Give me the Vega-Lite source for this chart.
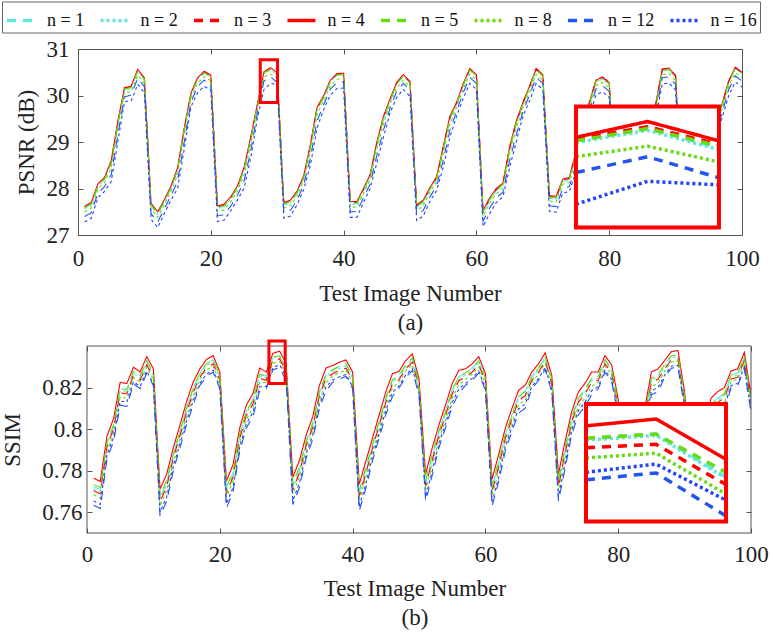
{
"$schema": "https://vega.github.io/schema/vega-lite/v6.json",
"background": "white",
"padding": {"left": 1, "top": 1, "right": 2, "bottom": 2},
"datasets": {"d": [
{"i":1,"n":1,"p":27.58,"s":0.7724},{"i":1,"n":2,"p":27.56,"s":0.7714},{"i":1,"n":3,"p":27.60,"s":0.7704},{"i":1,"n":4,"p":27.62,"s":0.7764},{"i":1,"n":5,"p":27.59,"s":0.7734},{"i":1,"n":8,"p":27.50,"s":0.7684},{"i":1,"n":12,"p":27.40,"s":0.7634},{"i":1,"n":16,"p":27.28,"s":0.7654},
{"i":2,"n":1,"p":27.66,"s":0.7708},{"i":2,"n":2,"p":27.64,"s":0.7698},{"i":2,"n":3,"p":27.68,"s":0.7688},{"i":2,"n":4,"p":27.70,"s":0.7748},{"i":2,"n":5,"p":27.67,"s":0.7718},{"i":2,"n":8,"p":27.58,"s":0.7668},{"i":2,"n":12,"p":27.48,"s":0.7618},{"i":2,"n":16,"p":27.36,"s":0.7638},
{"i":3,"n":1,"p":28.06,"s":0.7935},{"i":3,"n":2,"p":28.05,"s":0.7925},{"i":3,"n":3,"p":28.08,"s":0.7915},{"i":3,"n":4,"p":28.10,"s":0.7965},{"i":3,"n":5,"p":28.07,"s":0.7935},{"i":3,"n":8,"p":27.99,"s":0.7895},{"i":3,"n":12,"p":27.90,"s":0.7855},{"i":3,"n":16,"p":27.80,"s":0.7875},
{"i":4,"n":1,"p":28.20,"s":0.8020},{"i":4,"n":2,"p":28.19,"s":0.8010},{"i":4,"n":3,"p":28.22,"s":0.8000},{"i":4,"n":4,"p":28.24,"s":0.8050},{"i":4,"n":5,"p":28.21,"s":0.8020},{"i":4,"n":8,"p":28.13,"s":0.7980},{"i":4,"n":12,"p":28.04,"s":0.7940},{"i":4,"n":16,"p":27.94,"s":0.7960},
{"i":5,"n":1,"p":28.55,"s":0.8195},{"i":5,"n":2,"p":28.53,"s":0.8185},{"i":5,"n":3,"p":28.57,"s":0.8175},{"i":5,"n":4,"p":28.60,"s":0.8225},{"i":5,"n":5,"p":28.56,"s":0.8195},{"i":5,"n":8,"p":28.44,"s":0.8155},{"i":5,"n":12,"p":28.30,"s":0.8115},{"i":5,"n":16,"p":28.15,"s":0.8135},
{"i":6,"n":1,"p":29.40,"s":0.8189},{"i":6,"n":2,"p":29.38,"s":0.8179},{"i":6,"n":3,"p":29.42,"s":0.8169},{"i":6,"n":4,"p":29.45,"s":0.8219},{"i":6,"n":5,"p":29.41,"s":0.8189},{"i":6,"n":8,"p":29.29,"s":0.8149},{"i":6,"n":12,"p":29.15,"s":0.8109},{"i":6,"n":16,"p":29.00,"s":0.8129},
{"i":7,"n":1,"p":30.13,"s":0.8278},{"i":7,"n":2,"p":30.12,"s":0.8268},{"i":7,"n":3,"p":30.15,"s":0.8258},{"i":7,"n":4,"p":30.17,"s":0.8298},{"i":7,"n":5,"p":30.14,"s":0.8278},{"i":7,"n":8,"p":30.06,"s":0.8248},{"i":7,"n":12,"p":29.97,"s":0.8218},{"i":7,"n":16,"p":29.87,"s":0.8228},
{"i":8,"n":1,"p":30.17,"s":0.8255},{"i":8,"n":2,"p":30.16,"s":0.8245},{"i":8,"n":3,"p":30.19,"s":0.8235},{"i":8,"n":4,"p":30.20,"s":0.8275},{"i":8,"n":5,"p":30.17,"s":0.8255},{"i":8,"n":8,"p":30.08,"s":0.8225},{"i":8,"n":12,"p":30.01,"s":0.8195},{"i":8,"n":16,"p":29.88,"s":0.8205},
{"i":9,"n":1,"p":30.53,"s":0.8329},{"i":9,"n":2,"p":30.52,"s":0.8319},{"i":9,"n":3,"p":30.55,"s":0.8309},{"i":9,"n":4,"p":30.56,"s":0.8349},{"i":9,"n":5,"p":30.53,"s":0.8329},{"i":9,"n":8,"p":30.44,"s":0.8299},{"i":9,"n":12,"p":30.37,"s":0.8269},{"i":9,"n":16,"p":30.24,"s":0.8279},
{"i":10,"n":1,"p":30.35,"s":0.8270},{"i":10,"n":2,"p":30.34,"s":0.8260},{"i":10,"n":3,"p":30.37,"s":0.8250},{"i":10,"n":4,"p":30.38,"s":0.8290},{"i":10,"n":5,"p":30.35,"s":0.8270},{"i":10,"n":8,"p":30.26,"s":0.8240},{"i":10,"n":12,"p":30.19,"s":0.8210},{"i":10,"n":16,"p":30.06,"s":0.8220},
{"i":11,"n":1,"p":27.64,"s":0.7671},{"i":11,"n":2,"p":27.62,"s":0.7661},{"i":11,"n":3,"p":27.66,"s":0.7651},{"i":11,"n":4,"p":27.68,"s":0.7711},{"i":11,"n":5,"p":27.65,"s":0.7681},{"i":11,"n":8,"p":27.56,"s":0.7631},{"i":11,"n":12,"p":27.46,"s":0.7581},{"i":11,"n":16,"p":27.34,"s":0.7601},
{"i":12,"n":1,"p":27.46,"s":0.7743},{"i":12,"n":2,"p":27.44,"s":0.7733},{"i":12,"n":3,"p":27.48,"s":0.7723},{"i":12,"n":4,"p":27.50,"s":0.7783},{"i":12,"n":5,"p":27.47,"s":0.7753},{"i":12,"n":8,"p":27.38,"s":0.7703},{"i":12,"n":12,"p":27.28,"s":0.7653},{"i":12,"n":16,"p":27.16,"s":0.7673},
{"i":13,"n":1,"p":27.72,"s":0.7880},{"i":13,"n":2,"p":27.71,"s":0.7870},{"i":13,"n":3,"p":27.74,"s":0.7860},{"i":13,"n":4,"p":27.76,"s":0.7910},{"i":13,"n":5,"p":27.73,"s":0.7880},{"i":13,"n":8,"p":27.65,"s":0.7840},{"i":13,"n":12,"p":27.56,"s":0.7800},{"i":13,"n":16,"p":27.46,"s":0.7820},
{"i":14,"n":1,"p":28.01,"s":0.7990},{"i":14,"n":2,"p":28.00,"s":0.7980},{"i":14,"n":3,"p":28.03,"s":0.7970},{"i":14,"n":4,"p":28.05,"s":0.8020},{"i":14,"n":5,"p":28.02,"s":0.7990},{"i":14,"n":8,"p":27.94,"s":0.7950},{"i":14,"n":12,"p":27.85,"s":0.7910},{"i":14,"n":16,"p":27.75,"s":0.7930},
{"i":15,"n":1,"p":28.40,"s":0.8102},{"i":15,"n":2,"p":28.38,"s":0.8092},{"i":15,"n":3,"p":28.42,"s":0.8082},{"i":15,"n":4,"p":28.45,"s":0.8132},{"i":15,"n":5,"p":28.41,"s":0.8102},{"i":15,"n":8,"p":28.29,"s":0.8062},{"i":15,"n":12,"p":28.15,"s":0.8022},{"i":15,"n":16,"p":28.00,"s":0.8042},
{"i":16,"n":1,"p":29.25,"s":0.8197},{"i":16,"n":2,"p":29.23,"s":0.8187},{"i":16,"n":3,"p":29.27,"s":0.8177},{"i":16,"n":4,"p":29.30,"s":0.8227},{"i":16,"n":5,"p":29.26,"s":0.8197},{"i":16,"n":8,"p":29.14,"s":0.8157},{"i":16,"n":12,"p":29.00,"s":0.8117},{"i":16,"n":16,"p":28.85,"s":0.8137},
{"i":17,"n":1,"p":30.01,"s":0.8270},{"i":17,"n":2,"p":30.00,"s":0.8260},{"i":17,"n":3,"p":30.03,"s":0.8250},{"i":17,"n":4,"p":30.05,"s":0.8290},{"i":17,"n":5,"p":30.02,"s":0.8270},{"i":17,"n":8,"p":29.94,"s":0.8240},{"i":17,"n":12,"p":29.85,"s":0.8210},{"i":17,"n":16,"p":29.75,"s":0.8220},
{"i":18,"n":1,"p":30.35,"s":0.8315},{"i":18,"n":2,"p":30.34,"s":0.8305},{"i":18,"n":3,"p":30.37,"s":0.8295},{"i":18,"n":4,"p":30.38,"s":0.8335},{"i":18,"n":5,"p":30.35,"s":0.8315},{"i":18,"n":8,"p":30.26,"s":0.8285},{"i":18,"n":12,"p":30.19,"s":0.8255},{"i":18,"n":16,"p":30.06,"s":0.8265},
{"i":19,"n":1,"p":30.49,"s":0.8334},{"i":19,"n":2,"p":30.48,"s":0.8324},{"i":19,"n":3,"p":30.51,"s":0.8314},{"i":19,"n":4,"p":30.52,"s":0.8354},{"i":19,"n":5,"p":30.49,"s":0.8334},{"i":19,"n":8,"p":30.40,"s":0.8304},{"i":19,"n":12,"p":30.33,"s":0.8274},{"i":19,"n":16,"p":30.20,"s":0.8284},
{"i":20,"n":1,"p":30.41,"s":0.8255},{"i":20,"n":2,"p":30.40,"s":0.8245},{"i":20,"n":3,"p":30.43,"s":0.8235},{"i":20,"n":4,"p":30.44,"s":0.8275},{"i":20,"n":5,"p":30.41,"s":0.8255},{"i":20,"n":8,"p":30.32,"s":0.8225},{"i":20,"n":12,"p":30.25,"s":0.8195},{"i":20,"n":16,"p":30.12,"s":0.8205},
{"i":21,"n":1,"p":27.59,"s":0.7710},{"i":21,"n":2,"p":27.57,"s":0.7700},{"i":21,"n":3,"p":27.61,"s":0.7690},{"i":21,"n":4,"p":27.63,"s":0.7750},{"i":21,"n":5,"p":27.60,"s":0.7720},{"i":21,"n":8,"p":27.51,"s":0.7670},{"i":21,"n":12,"p":27.41,"s":0.7620},{"i":21,"n":16,"p":27.29,"s":0.7640},
{"i":22,"n":1,"p":27.62,"s":0.7790},{"i":22,"n":2,"p":27.60,"s":0.7780},{"i":22,"n":3,"p":27.64,"s":0.7770},{"i":22,"n":4,"p":27.66,"s":0.7830},{"i":22,"n":5,"p":27.63,"s":0.7800},{"i":22,"n":8,"p":27.54,"s":0.7750},{"i":22,"n":12,"p":27.44,"s":0.7700},{"i":22,"n":16,"p":27.32,"s":0.7720},
{"i":23,"n":1,"p":27.78,"s":0.7975},{"i":23,"n":2,"p":27.77,"s":0.7965},{"i":23,"n":3,"p":27.80,"s":0.7955},{"i":23,"n":4,"p":27.82,"s":0.8005},{"i":23,"n":5,"p":27.79,"s":0.7975},{"i":23,"n":8,"p":27.71,"s":0.7935},{"i":23,"n":12,"p":27.62,"s":0.7895},{"i":23,"n":16,"p":27.52,"s":0.7915},
{"i":24,"n":1,"p":28.01,"s":0.8086},{"i":24,"n":2,"p":28.00,"s":0.8076},{"i":24,"n":3,"p":28.03,"s":0.8066},{"i":24,"n":4,"p":28.05,"s":0.8116},{"i":24,"n":5,"p":28.02,"s":0.8086},{"i":24,"n":8,"p":27.94,"s":0.8046},{"i":24,"n":12,"p":27.85,"s":0.8006},{"i":24,"n":16,"p":27.75,"s":0.8026},
{"i":25,"n":1,"p":28.40,"s":0.8141},{"i":25,"n":2,"p":28.38,"s":0.8131},{"i":25,"n":3,"p":28.42,"s":0.8121},{"i":25,"n":4,"p":28.45,"s":0.8171},{"i":25,"n":5,"p":28.41,"s":0.8141},{"i":25,"n":8,"p":28.29,"s":0.8101},{"i":25,"n":12,"p":28.15,"s":0.8061},{"i":25,"n":16,"p":28.00,"s":0.8081},
{"i":26,"n":1,"p":29.05,"s":0.8264},{"i":26,"n":2,"p":29.03,"s":0.8254},{"i":26,"n":3,"p":29.07,"s":0.8244},{"i":26,"n":4,"p":29.10,"s":0.8294},{"i":26,"n":5,"p":29.06,"s":0.8264},{"i":26,"n":8,"p":28.94,"s":0.8224},{"i":26,"n":12,"p":28.80,"s":0.8184},{"i":26,"n":16,"p":28.65,"s":0.8204},
{"i":27,"n":1,"p":29.76,"s":0.8255},{"i":27,"n":2,"p":29.75,"s":0.8245},{"i":27,"n":3,"p":29.78,"s":0.8235},{"i":27,"n":4,"p":29.80,"s":0.8275},{"i":27,"n":5,"p":29.77,"s":0.8255},{"i":27,"n":8,"p":29.69,"s":0.8225},{"i":27,"n":12,"p":29.60,"s":0.8195},{"i":27,"n":16,"p":29.50,"s":0.8205},
{"i":28,"n":1,"p":30.49,"s":0.8346},{"i":28,"n":2,"p":30.48,"s":0.8344},{"i":28,"n":3,"p":30.50,"s":0.8333},{"i":28,"n":4,"p":30.51,"s":0.8365},{"i":28,"n":5,"p":30.49,"s":0.8347},{"i":28,"n":8,"p":30.40,"s":0.8318},{"i":28,"n":12,"p":30.31,"s":0.8286},{"i":28,"n":16,"p":30.13,"s":0.8297},
{"i":29,"n":1,"p":30.56,"s":0.8353},{"i":29,"n":2,"p":30.55,"s":0.8351},{"i":29,"n":3,"p":30.57,"s":0.8338},{"i":29,"n":4,"p":30.60,"s":0.8375},{"i":29,"n":5,"p":30.56,"s":0.8353},{"i":29,"n":8,"p":30.46,"s":0.8325},{"i":29,"n":12,"p":30.40,"s":0.8296},{"i":29,"n":16,"p":30.26,"s":0.8309},
{"i":30,"n":1,"p":30.45,"s":0.8290},{"i":30,"n":2,"p":30.44,"s":0.8288},{"i":30,"n":3,"p":30.47,"s":0.8279},{"i":30,"n":4,"p":30.49,"s":0.8316},{"i":30,"n":5,"p":30.46,"s":0.8297},{"i":30,"n":8,"p":30.37,"s":0.8265},{"i":30,"n":12,"p":30.28,"s":0.8233},{"i":30,"n":16,"p":30.24,"s":0.8256},
{"i":31,"n":1,"p":27.66,"s":0.7727},{"i":31,"n":2,"p":27.64,"s":0.7717},{"i":31,"n":3,"p":27.68,"s":0.7707},{"i":31,"n":4,"p":27.70,"s":0.7767},{"i":31,"n":5,"p":27.67,"s":0.7737},{"i":31,"n":8,"p":27.58,"s":0.7687},{"i":31,"n":12,"p":27.48,"s":0.7637},{"i":31,"n":16,"p":27.36,"s":0.7657},
{"i":32,"n":1,"p":27.71,"s":0.7810},{"i":32,"n":2,"p":27.69,"s":0.7800},{"i":32,"n":3,"p":27.73,"s":0.7790},{"i":32,"n":4,"p":27.75,"s":0.7850},{"i":32,"n":5,"p":27.72,"s":0.7820},{"i":32,"n":8,"p":27.63,"s":0.7770},{"i":32,"n":12,"p":27.53,"s":0.7720},{"i":32,"n":16,"p":27.41,"s":0.7740},
{"i":33,"n":1,"p":27.91,"s":0.7940},{"i":33,"n":2,"p":27.90,"s":0.7930},{"i":33,"n":3,"p":27.93,"s":0.7920},{"i":33,"n":4,"p":27.95,"s":0.7970},{"i":33,"n":5,"p":27.92,"s":0.7940},{"i":33,"n":8,"p":27.84,"s":0.7900},{"i":33,"n":12,"p":27.75,"s":0.7860},{"i":33,"n":16,"p":27.65,"s":0.7880},
{"i":34,"n":1,"p":28.24,"s":0.8030},{"i":34,"n":2,"p":28.23,"s":0.8020},{"i":34,"n":3,"p":28.26,"s":0.8010},{"i":34,"n":4,"p":28.28,"s":0.8060},{"i":34,"n":5,"p":28.25,"s":0.8030},{"i":34,"n":8,"p":28.17,"s":0.7990},{"i":34,"n":12,"p":28.08,"s":0.7950},{"i":34,"n":16,"p":27.98,"s":0.7970},
{"i":35,"n":1,"p":28.90,"s":0.8180},{"i":35,"n":2,"p":28.88,"s":0.8170},{"i":35,"n":3,"p":28.92,"s":0.8160},{"i":35,"n":4,"p":28.95,"s":0.8210},{"i":35,"n":5,"p":28.91,"s":0.8180},{"i":35,"n":8,"p":28.79,"s":0.8140},{"i":35,"n":12,"p":28.65,"s":0.8100},{"i":35,"n":16,"p":28.50,"s":0.8120},
{"i":36,"n":1,"p":29.70,"s":0.8264},{"i":36,"n":2,"p":29.68,"s":0.8254},{"i":36,"n":3,"p":29.72,"s":0.8244},{"i":36,"n":4,"p":29.75,"s":0.8294},{"i":36,"n":5,"p":29.71,"s":0.8264},{"i":36,"n":8,"p":29.59,"s":0.8224},{"i":36,"n":12,"p":29.45,"s":0.8184},{"i":36,"n":16,"p":29.30,"s":0.8204},
{"i":37,"n":1,"p":29.96,"s":0.8286},{"i":37,"n":2,"p":29.95,"s":0.8276},{"i":37,"n":3,"p":29.98,"s":0.8266},{"i":37,"n":4,"p":30.00,"s":0.8306},{"i":37,"n":5,"p":29.97,"s":0.8286},{"i":37,"n":8,"p":29.89,"s":0.8256},{"i":37,"n":12,"p":29.80,"s":0.8226},{"i":37,"n":16,"p":29.70,"s":0.8236},
{"i":38,"n":1,"p":30.30,"s":0.8302},{"i":38,"n":2,"p":30.29,"s":0.8292},{"i":38,"n":3,"p":30.32,"s":0.8282},{"i":38,"n":4,"p":30.33,"s":0.8322},{"i":38,"n":5,"p":30.30,"s":0.8302},{"i":38,"n":8,"p":30.21,"s":0.8272},{"i":38,"n":12,"p":30.14,"s":0.8242},{"i":38,"n":16,"p":30.01,"s":0.8252},
{"i":39,"n":1,"p":30.44,"s":0.8313},{"i":39,"n":2,"p":30.43,"s":0.8303},{"i":39,"n":3,"p":30.46,"s":0.8293},{"i":39,"n":4,"p":30.47,"s":0.8333},{"i":39,"n":5,"p":30.44,"s":0.8313},{"i":39,"n":8,"p":30.35,"s":0.8283},{"i":39,"n":12,"p":30.28,"s":0.8253},{"i":39,"n":16,"p":30.15,"s":0.8263},
{"i":40,"n":1,"p":30.45,"s":0.8255},{"i":40,"n":2,"p":30.44,"s":0.8245},{"i":40,"n":3,"p":30.47,"s":0.8235},{"i":40,"n":4,"p":30.48,"s":0.8275},{"i":40,"n":5,"p":30.45,"s":0.8255},{"i":40,"n":8,"p":30.36,"s":0.8225},{"i":40,"n":12,"p":30.29,"s":0.8195},{"i":40,"n":16,"p":30.16,"s":0.8205},
{"i":41,"n":1,"p":27.68,"s":0.7695},{"i":41,"n":2,"p":27.66,"s":0.7685},{"i":41,"n":3,"p":27.70,"s":0.7675},{"i":41,"n":4,"p":27.72,"s":0.7735},{"i":41,"n":5,"p":27.69,"s":0.7705},{"i":41,"n":8,"p":27.60,"s":0.7655},{"i":41,"n":12,"p":27.50,"s":0.7605},{"i":41,"n":16,"p":27.38,"s":0.7625},
{"i":42,"n":1,"p":27.68,"s":0.7806},{"i":42,"n":2,"p":27.66,"s":0.7796},{"i":42,"n":3,"p":27.70,"s":0.7786},{"i":42,"n":4,"p":27.72,"s":0.7846},{"i":42,"n":5,"p":27.69,"s":0.7816},{"i":42,"n":8,"p":27.60,"s":0.7766},{"i":42,"n":12,"p":27.50,"s":0.7716},{"i":42,"n":16,"p":27.38,"s":0.7736},
{"i":43,"n":1,"p":27.96,"s":0.7927},{"i":43,"n":2,"p":27.95,"s":0.7917},{"i":43,"n":3,"p":27.98,"s":0.7907},{"i":43,"n":4,"p":28.00,"s":0.7957},{"i":43,"n":5,"p":27.97,"s":0.7927},{"i":43,"n":8,"p":27.89,"s":0.7887},{"i":43,"n":12,"p":27.80,"s":0.7847},{"i":43,"n":16,"p":27.70,"s":0.7867},
{"i":44,"n":1,"p":28.26,"s":0.8038},{"i":44,"n":2,"p":28.25,"s":0.8028},{"i":44,"n":3,"p":28.28,"s":0.8018},{"i":44,"n":4,"p":28.30,"s":0.8068},{"i":44,"n":5,"p":28.27,"s":0.8038},{"i":44,"n":8,"p":28.19,"s":0.7998},{"i":44,"n":12,"p":28.10,"s":0.7958},{"i":44,"n":16,"p":28.00,"s":0.7978},
{"i":45,"n":1,"p":28.95,"s":0.8149},{"i":45,"n":2,"p":28.93,"s":0.8139},{"i":45,"n":3,"p":28.97,"s":0.8129},{"i":45,"n":4,"p":29.00,"s":0.8179},{"i":45,"n":5,"p":28.96,"s":0.8149},{"i":45,"n":8,"p":28.84,"s":0.8109},{"i":45,"n":12,"p":28.70,"s":0.8069},{"i":45,"n":16,"p":28.55,"s":0.8089},
{"i":46,"n":1,"p":29.50,"s":0.8237},{"i":46,"n":2,"p":29.48,"s":0.8227},{"i":46,"n":3,"p":29.52,"s":0.8217},{"i":46,"n":4,"p":29.55,"s":0.8267},{"i":46,"n":5,"p":29.51,"s":0.8237},{"i":46,"n":8,"p":29.39,"s":0.8197},{"i":46,"n":12,"p":29.25,"s":0.8157},{"i":46,"n":16,"p":29.10,"s":0.8177},
{"i":47,"n":1,"p":29.89,"s":0.8258},{"i":47,"n":2,"p":29.88,"s":0.8248},{"i":47,"n":3,"p":29.91,"s":0.8238},{"i":47,"n":4,"p":29.93,"s":0.8278},{"i":47,"n":5,"p":29.90,"s":0.8258},{"i":47,"n":8,"p":29.82,"s":0.8228},{"i":47,"n":12,"p":29.73,"s":0.8198},{"i":47,"n":16,"p":29.63,"s":0.8208},
{"i":48,"n":1,"p":30.25,"s":0.8310},{"i":48,"n":2,"p":30.24,"s":0.8300},{"i":48,"n":3,"p":30.27,"s":0.8290},{"i":48,"n":4,"p":30.28,"s":0.8330},{"i":48,"n":5,"p":30.25,"s":0.8310},{"i":48,"n":8,"p":30.16,"s":0.8280},{"i":48,"n":12,"p":30.09,"s":0.8250},{"i":48,"n":16,"p":29.96,"s":0.8260},
{"i":49,"n":1,"p":30.42,"s":0.8342},{"i":49,"n":2,"p":30.41,"s":0.8332},{"i":49,"n":3,"p":30.44,"s":0.8322},{"i":49,"n":4,"p":30.45,"s":0.8362},{"i":49,"n":5,"p":30.42,"s":0.8342},{"i":49,"n":8,"p":30.33,"s":0.8312},{"i":49,"n":12,"p":30.26,"s":0.8282},{"i":49,"n":16,"p":30.13,"s":0.8292},
{"i":50,"n":1,"p":30.27,"s":0.8223},{"i":50,"n":2,"p":30.26,"s":0.8213},{"i":50,"n":3,"p":30.29,"s":0.8203},{"i":50,"n":4,"p":30.30,"s":0.8243},{"i":50,"n":5,"p":30.27,"s":0.8223},{"i":50,"n":8,"p":30.18,"s":0.8193},{"i":50,"n":12,"p":30.11,"s":0.8163},{"i":50,"n":16,"p":29.98,"s":0.8173},
{"i":51,"n":1,"p":27.61,"s":0.7743},{"i":51,"n":2,"p":27.59,"s":0.7733},{"i":51,"n":3,"p":27.63,"s":0.7723},{"i":51,"n":4,"p":27.65,"s":0.7783},{"i":51,"n":5,"p":27.62,"s":0.7753},{"i":51,"n":8,"p":27.53,"s":0.7703},{"i":51,"n":12,"p":27.43,"s":0.7653},{"i":51,"n":16,"p":27.31,"s":0.7673},
{"i":52,"n":1,"p":27.71,"s":0.7870},{"i":52,"n":2,"p":27.69,"s":0.7860},{"i":52,"n":3,"p":27.73,"s":0.7850},{"i":52,"n":4,"p":27.75,"s":0.7910},{"i":52,"n":5,"p":27.72,"s":0.7880},{"i":52,"n":8,"p":27.63,"s":0.7830},{"i":52,"n":12,"p":27.53,"s":0.7780},{"i":52,"n":16,"p":27.41,"s":0.7800},
{"i":53,"n":1,"p":27.98,"s":0.7990},{"i":53,"n":2,"p":27.97,"s":0.7980},{"i":53,"n":3,"p":28.00,"s":0.7970},{"i":53,"n":4,"p":28.02,"s":0.8020},{"i":53,"n":5,"p":27.99,"s":0.7990},{"i":53,"n":8,"p":27.91,"s":0.7950},{"i":53,"n":12,"p":27.82,"s":0.7910},{"i":53,"n":16,"p":27.72,"s":0.7930},
{"i":54,"n":1,"p":28.21,"s":0.8086},{"i":54,"n":2,"p":28.20,"s":0.8076},{"i":54,"n":3,"p":28.23,"s":0.8066},{"i":54,"n":4,"p":28.25,"s":0.8116},{"i":54,"n":5,"p":28.22,"s":0.8086},{"i":54,"n":8,"p":28.14,"s":0.8046},{"i":54,"n":12,"p":28.05,"s":0.8006},{"i":54,"n":16,"p":27.95,"s":0.8026},
{"i":55,"n":1,"p":28.85,"s":0.8189},{"i":55,"n":2,"p":28.83,"s":0.8179},{"i":55,"n":3,"p":28.87,"s":0.8169},{"i":55,"n":4,"p":28.90,"s":0.8219},{"i":55,"n":5,"p":28.86,"s":0.8189},{"i":55,"n":8,"p":28.74,"s":0.8149},{"i":55,"n":12,"p":28.60,"s":0.8109},{"i":55,"n":16,"p":28.45,"s":0.8129},
{"i":56,"n":1,"p":29.50,"s":0.8253},{"i":56,"n":2,"p":29.48,"s":0.8243},{"i":56,"n":3,"p":29.52,"s":0.8233},{"i":56,"n":4,"p":29.55,"s":0.8283},{"i":56,"n":5,"p":29.51,"s":0.8253},{"i":56,"n":8,"p":29.39,"s":0.8213},{"i":56,"n":12,"p":29.25,"s":0.8173},{"i":56,"n":16,"p":29.10,"s":0.8193},
{"i":57,"n":1,"p":29.81,"s":0.8270},{"i":57,"n":2,"p":29.80,"s":0.8260},{"i":57,"n":3,"p":29.83,"s":0.8250},{"i":57,"n":4,"p":29.85,"s":0.8290},{"i":57,"n":5,"p":29.82,"s":0.8270},{"i":57,"n":8,"p":29.74,"s":0.8240},{"i":57,"n":12,"p":29.65,"s":0.8210},{"i":57,"n":16,"p":29.55,"s":0.8220},
{"i":58,"n":1,"p":30.22,"s":0.8294},{"i":58,"n":2,"p":30.21,"s":0.8284},{"i":58,"n":3,"p":30.24,"s":0.8274},{"i":58,"n":4,"p":30.25,"s":0.8314},{"i":58,"n":5,"p":30.22,"s":0.8294},{"i":58,"n":8,"p":30.13,"s":0.8264},{"i":58,"n":12,"p":30.06,"s":0.8234},{"i":58,"n":16,"p":29.93,"s":0.8244},
{"i":59,"n":1,"p":30.55,"s":0.8329},{"i":59,"n":2,"p":30.54,"s":0.8319},{"i":59,"n":3,"p":30.57,"s":0.8309},{"i":59,"n":4,"p":30.58,"s":0.8349},{"i":59,"n":5,"p":30.55,"s":0.8329},{"i":59,"n":8,"p":30.46,"s":0.8299},{"i":59,"n":12,"p":30.39,"s":0.8269},{"i":59,"n":16,"p":30.26,"s":0.8279},
{"i":60,"n":1,"p":30.42,"s":0.8247},{"i":60,"n":2,"p":30.41,"s":0.8237},{"i":60,"n":3,"p":30.44,"s":0.8227},{"i":60,"n":4,"p":30.45,"s":0.8267},{"i":60,"n":5,"p":30.42,"s":0.8247},{"i":60,"n":8,"p":30.33,"s":0.8217},{"i":60,"n":12,"p":30.26,"s":0.8187},{"i":60,"n":16,"p":30.13,"s":0.8197},
{"i":61,"n":1,"p":27.48,"s":0.7719},{"i":61,"n":2,"p":27.46,"s":0.7709},{"i":61,"n":3,"p":27.50,"s":0.7699},{"i":61,"n":4,"p":27.52,"s":0.7759},{"i":61,"n":5,"p":27.49,"s":0.7729},{"i":61,"n":8,"p":27.40,"s":0.7679},{"i":61,"n":12,"p":27.30,"s":0.7629},{"i":61,"n":16,"p":27.18,"s":0.7649},
{"i":62,"n":1,"p":27.76,"s":0.7838},{"i":62,"n":2,"p":27.74,"s":0.7828},{"i":62,"n":3,"p":27.78,"s":0.7818},{"i":62,"n":4,"p":27.80,"s":0.7878},{"i":62,"n":5,"p":27.77,"s":0.7848},{"i":62,"n":8,"p":27.68,"s":0.7798},{"i":62,"n":12,"p":27.58,"s":0.7748},{"i":62,"n":16,"p":27.46,"s":0.7768},
{"i":63,"n":1,"p":27.96,"s":0.7975},{"i":63,"n":2,"p":27.95,"s":0.7965},{"i":63,"n":3,"p":27.98,"s":0.7955},{"i":63,"n":4,"p":28.00,"s":0.8005},{"i":63,"n":5,"p":27.97,"s":0.7975},{"i":63,"n":8,"p":27.89,"s":0.7935},{"i":63,"n":12,"p":27.80,"s":0.7895},{"i":63,"n":16,"p":27.70,"s":0.7915},
{"i":64,"n":1,"p":28.08,"s":0.8070},{"i":64,"n":2,"p":28.07,"s":0.8060},{"i":64,"n":3,"p":28.10,"s":0.8050},{"i":64,"n":4,"p":28.12,"s":0.8100},{"i":64,"n":5,"p":28.09,"s":0.8070},{"i":64,"n":8,"p":28.01,"s":0.8030},{"i":64,"n":12,"p":27.92,"s":0.7990},{"i":64,"n":16,"p":27.82,"s":0.8010},
{"i":65,"n":1,"p":28.85,"s":0.8157},{"i":65,"n":2,"p":28.83,"s":0.8147},{"i":65,"n":3,"p":28.87,"s":0.8137},{"i":65,"n":4,"p":28.90,"s":0.8187},{"i":65,"n":5,"p":28.86,"s":0.8157},{"i":65,"n":8,"p":28.74,"s":0.8117},{"i":65,"n":12,"p":28.60,"s":0.8077},{"i":65,"n":16,"p":28.45,"s":0.8097},
{"i":66,"n":1,"p":29.40,"s":0.8181},{"i":66,"n":2,"p":29.38,"s":0.8171},{"i":66,"n":3,"p":29.42,"s":0.8161},{"i":66,"n":4,"p":29.45,"s":0.8211},{"i":66,"n":5,"p":29.41,"s":0.8181},{"i":66,"n":8,"p":29.29,"s":0.8141},{"i":66,"n":12,"p":29.15,"s":0.8101},{"i":66,"n":16,"p":29.00,"s":0.8121},
{"i":67,"n":1,"p":29.81,"s":0.8255},{"i":67,"n":2,"p":29.80,"s":0.8245},{"i":67,"n":3,"p":29.83,"s":0.8235},{"i":67,"n":4,"p":29.85,"s":0.8275},{"i":67,"n":5,"p":29.82,"s":0.8255},{"i":67,"n":8,"p":29.74,"s":0.8225},{"i":67,"n":12,"p":29.65,"s":0.8195},{"i":67,"n":16,"p":29.55,"s":0.8205},
{"i":68,"n":1,"p":30.17,"s":0.8294},{"i":68,"n":2,"p":30.16,"s":0.8284},{"i":68,"n":3,"p":30.19,"s":0.8274},{"i":68,"n":4,"p":30.20,"s":0.8314},{"i":68,"n":5,"p":30.17,"s":0.8294},{"i":68,"n":8,"p":30.08,"s":0.8264},{"i":68,"n":12,"p":30.01,"s":0.8234},{"i":68,"n":16,"p":29.88,"s":0.8244},
{"i":69,"n":1,"p":30.55,"s":0.8347},{"i":69,"n":2,"p":30.54,"s":0.8337},{"i":69,"n":3,"p":30.57,"s":0.8327},{"i":69,"n":4,"p":30.58,"s":0.8367},{"i":69,"n":5,"p":30.55,"s":0.8347},{"i":69,"n":8,"p":30.46,"s":0.8317},{"i":69,"n":12,"p":30.39,"s":0.8287},{"i":69,"n":16,"p":30.26,"s":0.8297},
{"i":70,"n":1,"p":30.42,"s":0.8239},{"i":70,"n":2,"p":30.41,"s":0.8229},{"i":70,"n":3,"p":30.44,"s":0.8219},{"i":70,"n":4,"p":30.45,"s":0.8259},{"i":70,"n":5,"p":30.42,"s":0.8239},{"i":70,"n":8,"p":30.33,"s":0.8209},{"i":70,"n":12,"p":30.26,"s":0.8179},{"i":70,"n":16,"p":30.13,"s":0.8189},
{"i":71,"n":1,"p":27.81,"s":0.7743},{"i":71,"n":2,"p":27.79,"s":0.7733},{"i":71,"n":3,"p":27.83,"s":0.7723},{"i":71,"n":4,"p":27.85,"s":0.7783},{"i":71,"n":5,"p":27.82,"s":0.7753},{"i":71,"n":8,"p":27.73,"s":0.7703},{"i":71,"n":12,"p":27.63,"s":0.7653},{"i":71,"n":16,"p":27.51,"s":0.7673},
{"i":72,"n":1,"p":27.79,"s":0.7901},{"i":72,"n":2,"p":27.77,"s":0.7891},{"i":72,"n":3,"p":27.81,"s":0.7881},{"i":72,"n":4,"p":27.83,"s":0.7941},{"i":72,"n":5,"p":27.80,"s":0.7911},{"i":72,"n":8,"p":27.71,"s":0.7861},{"i":72,"n":12,"p":27.61,"s":0.7811},{"i":72,"n":16,"p":27.49,"s":0.7831},
{"i":73,"n":1,"p":28.16,"s":0.8054},{"i":73,"n":2,"p":28.15,"s":0.8044},{"i":73,"n":3,"p":28.18,"s":0.8034},{"i":73,"n":4,"p":28.20,"s":0.8084},{"i":73,"n":5,"p":28.17,"s":0.8054},{"i":73,"n":8,"p":28.09,"s":0.8014},{"i":73,"n":12,"p":28.00,"s":0.7974},{"i":73,"n":16,"p":27.90,"s":0.7994},
{"i":74,"n":1,"p":28.20,"s":0.8149},{"i":74,"n":2,"p":28.19,"s":0.8139},{"i":74,"n":3,"p":28.22,"s":0.8129},{"i":74,"n":4,"p":28.24,"s":0.8179},{"i":74,"n":5,"p":28.21,"s":0.8149},{"i":74,"n":8,"p":28.13,"s":0.8109},{"i":74,"n":12,"p":28.04,"s":0.8069},{"i":74,"n":16,"p":27.94,"s":0.8089},
{"i":75,"n":1,"p":28.75,"s":0.8190},{"i":75,"n":2,"p":28.73,"s":0.8180},{"i":75,"n":3,"p":28.77,"s":0.8170},{"i":75,"n":4,"p":28.80,"s":0.8220},{"i":75,"n":5,"p":28.76,"s":0.8190},{"i":75,"n":8,"p":28.64,"s":0.8150},{"i":75,"n":12,"p":28.50,"s":0.8110},{"i":75,"n":16,"p":28.35,"s":0.8130},
{"i":76,"n":1,"p":29.35,"s":0.8245},{"i":76,"n":2,"p":29.33,"s":0.8235},{"i":76,"n":3,"p":29.37,"s":0.8225},{"i":76,"n":4,"p":29.40,"s":0.8275},{"i":76,"n":5,"p":29.36,"s":0.8245},{"i":76,"n":8,"p":29.24,"s":0.8205},{"i":76,"n":12,"p":29.10,"s":0.8165},{"i":76,"n":16,"p":28.95,"s":0.8185},
{"i":77,"n":1,"p":29.81,"s":0.8255},{"i":77,"n":2,"p":29.80,"s":0.8245},{"i":77,"n":3,"p":29.83,"s":0.8235},{"i":77,"n":4,"p":29.85,"s":0.8275},{"i":77,"n":5,"p":29.82,"s":0.8255},{"i":77,"n":8,"p":29.74,"s":0.8225},{"i":77,"n":12,"p":29.65,"s":0.8195},{"i":77,"n":16,"p":29.55,"s":0.8205},
{"i":78,"n":1,"p":30.30,"s":0.8334},{"i":78,"n":2,"p":30.29,"s":0.8324},{"i":78,"n":3,"p":30.32,"s":0.8314},{"i":78,"n":4,"p":30.33,"s":0.8354},{"i":78,"n":5,"p":30.30,"s":0.8334},{"i":78,"n":8,"p":30.21,"s":0.8304},{"i":78,"n":12,"p":30.14,"s":0.8274},{"i":78,"n":16,"p":30.01,"s":0.8284},
{"i":79,"n":1,"p":30.37,"s":0.8290},{"i":79,"n":2,"p":30.36,"s":0.8280},{"i":79,"n":3,"p":30.39,"s":0.8270},{"i":79,"n":4,"p":30.40,"s":0.8310},{"i":79,"n":5,"p":30.37,"s":0.8290},{"i":79,"n":8,"p":30.28,"s":0.8260},{"i":79,"n":12,"p":30.21,"s":0.8230},{"i":79,"n":16,"p":30.08,"s":0.8240},
{"i":80,"n":1,"p":30.25,"s":0.8125},{"i":80,"n":2,"p":30.24,"s":0.8115},{"i":80,"n":3,"p":30.27,"s":0.8105},{"i":80,"n":4,"p":30.28,"s":0.8145},{"i":80,"n":5,"p":30.25,"s":0.8125},{"i":80,"n":8,"p":30.16,"s":0.8095},{"i":80,"n":12,"p":30.09,"s":0.8065},{"i":80,"n":16,"p":29.96,"s":0.8075},
{"i":81,"n":1,"p":27.66,"s":0.7710},{"i":81,"n":2,"p":27.64,"s":0.7700},{"i":81,"n":3,"p":27.68,"s":0.7690},{"i":81,"n":4,"p":27.70,"s":0.7750},{"i":81,"n":5,"p":27.67,"s":0.7720},{"i":81,"n":8,"p":27.58,"s":0.7670},{"i":81,"n":12,"p":27.48,"s":0.7620},{"i":81,"n":16,"p":27.36,"s":0.7640},
{"i":82,"n":1,"p":27.71,"s":0.7840},{"i":82,"n":2,"p":27.69,"s":0.7830},{"i":82,"n":3,"p":27.73,"s":0.7820},{"i":82,"n":4,"p":27.75,"s":0.7880},{"i":82,"n":5,"p":27.72,"s":0.7850},{"i":82,"n":8,"p":27.63,"s":0.7800},{"i":82,"n":12,"p":27.53,"s":0.7750},{"i":82,"n":16,"p":27.41,"s":0.7770},
{"i":83,"n":1,"p":27.96,"s":0.7970},{"i":83,"n":2,"p":27.95,"s":0.7960},{"i":83,"n":3,"p":27.98,"s":0.7950},{"i":83,"n":4,"p":28.00,"s":0.8000},{"i":83,"n":5,"p":27.97,"s":0.7970},{"i":83,"n":8,"p":27.89,"s":0.7930},{"i":83,"n":12,"p":27.80,"s":0.7890},{"i":83,"n":16,"p":27.70,"s":0.7910},
{"i":84,"n":1,"p":28.26,"s":0.8070},{"i":84,"n":2,"p":28.25,"s":0.8060},{"i":84,"n":3,"p":28.28,"s":0.8050},{"i":84,"n":4,"p":28.30,"s":0.8100},{"i":84,"n":5,"p":28.27,"s":0.8070},{"i":84,"n":8,"p":28.19,"s":0.8030},{"i":84,"n":12,"p":28.10,"s":0.7990},{"i":84,"n":16,"p":28.00,"s":0.8010},
{"i":85,"n":1,"p":28.80,"s":0.8245},{"i":85,"n":2,"p":28.78,"s":0.8235},{"i":85,"n":3,"p":28.82,"s":0.8225},{"i":85,"n":4,"p":28.85,"s":0.8275},{"i":85,"n":5,"p":28.81,"s":0.8245},{"i":85,"n":8,"p":28.69,"s":0.8205},{"i":85,"n":12,"p":28.55,"s":0.8165},{"i":85,"n":16,"p":28.40,"s":0.8185},
{"i":86,"n":1,"p":29.40,"s":0.8260},{"i":86,"n":2,"p":29.38,"s":0.8250},{"i":86,"n":3,"p":29.42,"s":0.8240},{"i":86,"n":4,"p":29.45,"s":0.8290},{"i":86,"n":5,"p":29.41,"s":0.8260},{"i":86,"n":8,"p":29.29,"s":0.8220},{"i":86,"n":12,"p":29.15,"s":0.8180},{"i":86,"n":16,"p":29.00,"s":0.8200},
{"i":87,"n":1,"p":29.78,"s":0.8310},{"i":87,"n":2,"p":29.77,"s":0.8300},{"i":87,"n":3,"p":29.80,"s":0.8290},{"i":87,"n":4,"p":29.82,"s":0.8330},{"i":87,"n":5,"p":29.79,"s":0.8310},{"i":87,"n":8,"p":29.71,"s":0.8280},{"i":87,"n":12,"p":29.62,"s":0.8250},{"i":87,"n":16,"p":29.52,"s":0.8260},
{"i":88,"n":1,"p":30.54,"s":0.8353},{"i":88,"n":2,"p":30.53,"s":0.8343},{"i":88,"n":3,"p":30.56,"s":0.8333},{"i":88,"n":4,"p":30.57,"s":0.8373},{"i":88,"n":5,"p":30.54,"s":0.8353},{"i":88,"n":8,"p":30.45,"s":0.8323},{"i":88,"n":12,"p":30.38,"s":0.8293},{"i":88,"n":16,"p":30.25,"s":0.8303},
{"i":89,"n":1,"p":30.56,"s":0.8358},{"i":89,"n":2,"p":30.55,"s":0.8348},{"i":89,"n":3,"p":30.58,"s":0.8338},{"i":89,"n":4,"p":30.59,"s":0.8378},{"i":89,"n":5,"p":30.56,"s":0.8358},{"i":89,"n":8,"p":30.47,"s":0.8328},{"i":89,"n":12,"p":30.40,"s":0.8298},{"i":89,"n":16,"p":30.27,"s":0.8308},
{"i":90,"n":1,"p":30.40,"s":0.8160},{"i":90,"n":2,"p":30.39,"s":0.8150},{"i":90,"n":3,"p":30.42,"s":0.8140},{"i":90,"n":4,"p":30.43,"s":0.8180},{"i":90,"n":5,"p":30.40,"s":0.8160},{"i":90,"n":8,"p":30.31,"s":0.8130},{"i":90,"n":12,"p":30.24,"s":0.8100},{"i":90,"n":16,"p":30.11,"s":0.8110},
{"i":91,"n":1,"p":27.56,"s":0.7720},{"i":91,"n":2,"p":27.54,"s":0.7710},{"i":91,"n":3,"p":27.58,"s":0.7700},{"i":91,"n":4,"p":27.60,"s":0.7760},{"i":91,"n":5,"p":27.57,"s":0.7730},{"i":91,"n":8,"p":27.48,"s":0.7680},{"i":91,"n":12,"p":27.38,"s":0.7630},{"i":91,"n":16,"p":27.26,"s":0.7650},
{"i":92,"n":1,"p":27.71,"s":0.7860},{"i":92,"n":2,"p":27.69,"s":0.7850},{"i":92,"n":3,"p":27.73,"s":0.7840},{"i":92,"n":4,"p":27.75,"s":0.7900},{"i":92,"n":5,"p":27.72,"s":0.7870},{"i":92,"n":8,"p":27.63,"s":0.7820},{"i":92,"n":12,"p":27.53,"s":0.7770},{"i":92,"n":16,"p":27.41,"s":0.7790},
{"i":93,"n":1,"p":27.96,"s":0.8000},{"i":93,"n":2,"p":27.95,"s":0.7990},{"i":93,"n":3,"p":27.98,"s":0.7980},{"i":93,"n":4,"p":28.00,"s":0.8030},{"i":93,"n":5,"p":27.97,"s":0.8000},{"i":93,"n":8,"p":27.89,"s":0.7960},{"i":93,"n":12,"p":27.80,"s":0.7920},{"i":93,"n":16,"p":27.70,"s":0.7940},
{"i":94,"n":1,"p":28.21,"s":0.8120},{"i":94,"n":2,"p":28.20,"s":0.8110},{"i":94,"n":3,"p":28.23,"s":0.8100},{"i":94,"n":4,"p":28.25,"s":0.8150},{"i":94,"n":5,"p":28.22,"s":0.8120},{"i":94,"n":8,"p":28.14,"s":0.8080},{"i":94,"n":12,"p":28.05,"s":0.8040},{"i":94,"n":16,"p":27.95,"s":0.8060},
{"i":95,"n":1,"p":28.80,"s":0.8150},{"i":95,"n":2,"p":28.78,"s":0.8140},{"i":95,"n":3,"p":28.82,"s":0.8130},{"i":95,"n":4,"p":28.85,"s":0.8180},{"i":95,"n":5,"p":28.81,"s":0.8150},{"i":95,"n":8,"p":28.69,"s":0.8110},{"i":95,"n":12,"p":28.55,"s":0.8070},{"i":95,"n":16,"p":28.40,"s":0.8090},
{"i":96,"n":1,"p":29.40,"s":0.8170},{"i":96,"n":2,"p":29.38,"s":0.8160},{"i":96,"n":3,"p":29.42,"s":0.8150},{"i":96,"n":4,"p":29.45,"s":0.8200},{"i":96,"n":5,"p":29.41,"s":0.8170},{"i":96,"n":8,"p":29.29,"s":0.8130},{"i":96,"n":12,"p":29.15,"s":0.8090},{"i":96,"n":16,"p":29.00,"s":0.8110},
{"i":97,"n":1,"p":29.78,"s":0.8260},{"i":97,"n":2,"p":29.77,"s":0.8250},{"i":97,"n":3,"p":29.80,"s":0.8240},{"i":97,"n":4,"p":29.82,"s":0.8280},{"i":97,"n":5,"p":29.79,"s":0.8260},{"i":97,"n":8,"p":29.71,"s":0.8230},{"i":97,"n":12,"p":29.62,"s":0.8200},{"i":97,"n":16,"p":29.52,"s":0.8210},
{"i":98,"n":1,"p":30.29,"s":0.8270},{"i":98,"n":2,"p":30.28,"s":0.8260},{"i":98,"n":3,"p":30.31,"s":0.8250},{"i":98,"n":4,"p":30.32,"s":0.8290},{"i":98,"n":5,"p":30.29,"s":0.8270},{"i":98,"n":8,"p":30.20,"s":0.8240},{"i":98,"n":12,"p":30.13,"s":0.8210},{"i":98,"n":16,"p":30.00,"s":0.8220},
{"i":99,"n":1,"p":30.58,"s":0.8350},{"i":99,"n":2,"p":30.57,"s":0.8340},{"i":99,"n":3,"p":30.60,"s":0.8330},{"i":99,"n":4,"p":30.61,"s":0.8370},{"i":99,"n":5,"p":30.58,"s":0.8350},{"i":99,"n":8,"p":30.49,"s":0.8320},{"i":99,"n":12,"p":30.42,"s":0.8290},{"i":99,"n":16,"p":30.29,"s":0.8300},
{"i":100,"n":1,"p":30.47,"s":0.8140},{"i":100,"n":2,"p":30.46,"s":0.8130},{"i":100,"n":3,"p":30.49,"s":0.8120},{"i":100,"n":4,"p":30.50,"s":0.8160},{"i":100,"n":5,"p":30.47,"s":0.8140},{"i":100,"n":8,"p":30.38,"s":0.8110},{"i":100,"n":12,"p":30.31,"s":0.8080},{"i":100,"n":16,"p":30.18,"s":0.8090}
]},
"vconcat": [
{
 "width": 664, "height": 186,
 "layer": [
  {"data": {"name": "d"}, "mark": {"type": "line", "strokeWidth": 1.1, "clip": true},
   "encoding": {
    "x": {"field": "i", "type": "quantitative", "scale": {"domain": [0, 100], "nice": false}, "axis": {"values": [0, 20, 40, 60, 80, 100], "title": ["Test Image Number", "(a)"], "titleLineHeight": 29, "labelPadding": 17, "titlePadding": 12}},
    "y": {"field": "p", "type": "quantitative", "scale": {"domain": [27, 31], "nice": false, "zero": false}, "axis": {"values": [27, 28, 29, 30, 31], "title": "PSNR (dB)", "labelPadding": 14, "titlePadding": 8}},
    "color": {"field": "n", "type": "ordinal", "scale": {"domain": [1, 2, 3, 4, 5, 8, 12, 16], "range": ["#66E6DC", "#66E6DC", "#FF0000", "#FF0000", "#66DD11", "#66DD11", "#2255EE", "#2244FF"]},
     "legend": {"orient": "none", "legendX": -76, "legendY": -47.5, "direction": "horizontal", "columns": 8, "title": null, "labelExpr": "'n = ' + datum.label", "symbolType": "stroke", "symbolSize": 784, "symbolStrokeWidth": 3.5, "labelFont": "Liberation Serif", "labelFontSize": 18, "labelColor": "#111111", "labelOffset": 10, "columnPadding": 8.5, "padding": 3, "strokeColor": "#666666", "fillColor": "white"}},
    "strokeDash": {"field": "n", "type": "ordinal", "scale": {"domain": [1, 2, 3, 4, 5, 8, 12, 16], "range": [[9, 7], [3, 3], [9, 7], [1, 0], [9, 7], [3, 3], [9, 7], [3, 3]]},
     "legend": {"orient": "none", "legendX": -76, "legendY": -47.5, "direction": "horizontal", "columns": 8, "title": null, "labelExpr": "'n = ' + datum.label", "symbolType": "stroke", "symbolSize": 784, "symbolStrokeWidth": 3.5, "labelFont": "Liberation Serif", "labelFontSize": 18, "labelColor": "#111111", "labelOffset": 10, "columnPadding": 8.5, "padding": 3, "strokeColor": "#666666", "fillColor": "white"}}
   }},
  {"data": {"values": [{}]}, "mark": {"type": "rect", "filled": false, "color": "#FF0000", "strokeWidth": 3},
   "encoding": {
    "x": {"datum": 27.45, "type": "quantitative", "scale": {"domain": [0, 100], "nice": false}, "axis": {"orient": "top", "labels": false, "title": null, "values": [0, 20, 40, 60, 80, 100]}},
    "x2": {"datum": 30.05},
    "y": {"datum": 29.85, "type": "quantitative", "scale": {"domain": [27, 31], "nice": false, "zero": false}, "axis": {"orient": "right", "labels": false, "title": null, "values": [27, 28, 29, 30, 31]}},
    "y2": {"datum": 30.77}
   }},
  {"layer": [
    {"data": {"values": [{}]}, "mark": {"type": "rect", "color": "white"},
     "encoding": {
      "x": {"datum": 28, "type": "quantitative", "scale": {"domain": [21.035, 30.322], "nice": false}, "axis": null},
      "x2": {"datum": 30},
      "y": {"datum": 29.998, "type": "quantitative", "scale": {"domain": [29.955, 31.012], "nice": false, "zero": false}, "axis": null},
      "y2": {"datum": 30.685}
     }},
    {"data": {"name": "d"}, "transform": [{"filter": "datum.i >= 28 && datum.i <= 30"}], "mark": {"type": "line", "strokeWidth": 3.5},
     "encoding": {
      "x": {"field": "i", "type": "quantitative", "scale": {"domain": [21.035, 30.322], "nice": false}, "axis": null},
      "y": {"field": "p", "type": "quantitative", "scale": {"domain": [29.955, 31.012], "nice": false, "zero": false}, "axis": null},
      "color": {"field": "n", "type": "ordinal"},
      "strokeDash": {"field": "n", "type": "ordinal"}
     }},
    {"data": {"values": [{}]}, "mark": {"type": "rect", "filled": false, "color": "#FF0000", "strokeWidth": 4},
     "encoding": {
      "x": {"datum": 28, "type": "quantitative", "axis": null},
      "x2": {"datum": 30},
      "y": {"datum": 29.998, "type": "quantitative", "axis": null},
      "y2": {"datum": 30.685}
     }}
  ]}
 ],
 "resolve": {"scale": {"x": "independent", "y": "independent"}, "axis": {"x": "independent", "y": "independent"}}
},
{
 "width": 673, "height": 187,
 "view": {"stroke": null},
 "layer": [
  {"data": {"name": "d"}, "mark": {"type": "line", "strokeWidth": 1.1, "clip": true},
   "encoding": {
    "x": {"field": "i", "type": "quantitative", "scale": {"domain": [-1.355, 100], "nice": false}, "axis": {"values": [0, 20, 40, 60, 80, 100], "title": ["Test Image Number", "(b)"], "titleLineHeight": 29, "labelPadding": 15, "titlePadding": 11}},
    "y": {"field": "s", "type": "quantitative", "scale": {"domain": [0.75, 0.84], "nice": false, "zero": false}, "axis": {"values": [0.76, 0.78, 0.8, 0.82], "format": ".2~f", "title": "SSIM", "offset": -9, "labelPadding": 10, "titlePadding": 17}},
    "color": {"field": "n", "type": "ordinal"},
    "strokeDash": {"field": "n", "type": "ordinal"}
   }},
  {"data": {"values": [{}]},
   "layer": [
    {"mark": {"type": "rect", "filled": false, "color": "#555555", "strokeWidth": 1},
     "encoding": {
      "x": {"datum": 0, "type": "quantitative", "scale": {"domain": [-1.355, 100], "nice": false}, "axis": {"orient": "top", "labels": false, "title": null, "values": [0, 20, 40, 60, 80, 100]}},
      "x2": {"datum": 100},
      "y": {"datum": 0.75, "type": "quantitative", "scale": {"domain": [0.75, 0.84], "nice": false, "zero": false}, "axis": {"orient": "right", "labels": false, "title": null, "values": [0.76, 0.78, 0.8, 0.82]}},
      "y2": {"datum": 0.84}
     }},
    {"mark": {"type": "rect", "filled": false, "color": "#FF0000", "strokeWidth": 3},
     "encoding": {
      "x": {"datum": 27.4, "type": "quantitative"},
      "x2": {"datum": 29.85},
      "y": {"datum": 0.822, "type": "quantitative"},
      "y2": {"datum": 0.8424}
     }}
   ]},
  {"layer": [
    {"data": {"values": [{}]}, "mark": {"type": "rect", "color": "white"},
     "encoding": {
      "x": {"datum": 28, "type": "quantitative", "scale": {"domain": [20.743, 30.357], "nice": false}, "axis": null},
      "x2": {"datum": 30},
      "y": {"datum": 0.8225, "type": "quantitative", "scale": {"domain": [0.8208, 0.8482], "nice": false, "zero": false}, "axis": null},
      "y2": {"datum": 0.8397}
     }},
    {"data": {"name": "d"}, "transform": [{"filter": "datum.i >= 28 && datum.i <= 30"}], "mark": {"type": "line", "strokeWidth": 3.5},
     "encoding": {
      "x": {"field": "i", "type": "quantitative", "scale": {"domain": [20.743, 30.357], "nice": false}, "axis": null},
      "y": {"field": "s", "type": "quantitative", "scale": {"domain": [0.8208, 0.8482], "nice": false, "zero": false}, "axis": null},
      "color": {"field": "n", "type": "ordinal"},
      "strokeDash": {"field": "n", "type": "ordinal"}
     }},
    {"data": {"values": [{}]}, "mark": {"type": "rect", "filled": false, "color": "#FF0000", "strokeWidth": 4},
     "encoding": {
      "x": {"datum": 28, "type": "quantitative", "axis": null},
      "x2": {"datum": 30},
      "y": {"datum": 0.8225, "type": "quantitative", "axis": null},
      "y2": {"datum": 0.8397}
     }}
  ]}
 ],
 "resolve": {"scale": {"x": "independent", "y": "independent"}, "axis": {"x": "independent", "y": "independent"}}
}
],
"spacing": 4,
"config": {
 "view": {"stroke": "#555555", "strokeWidth": 1},
 "font": "Liberation Serif",
 "axis": {"labelFont": "Liberation Serif", "titleFont": "Liberation Serif", "labelFontSize": 23, "titleFontSize": 23, "titleFontWeight": "normal", "labelColor": "#222222", "titleColor": "#222222", "grid": false, "domain": false, "tickColor": "#555555", "tickSize": -5, "labelFlush": false}
}
}
